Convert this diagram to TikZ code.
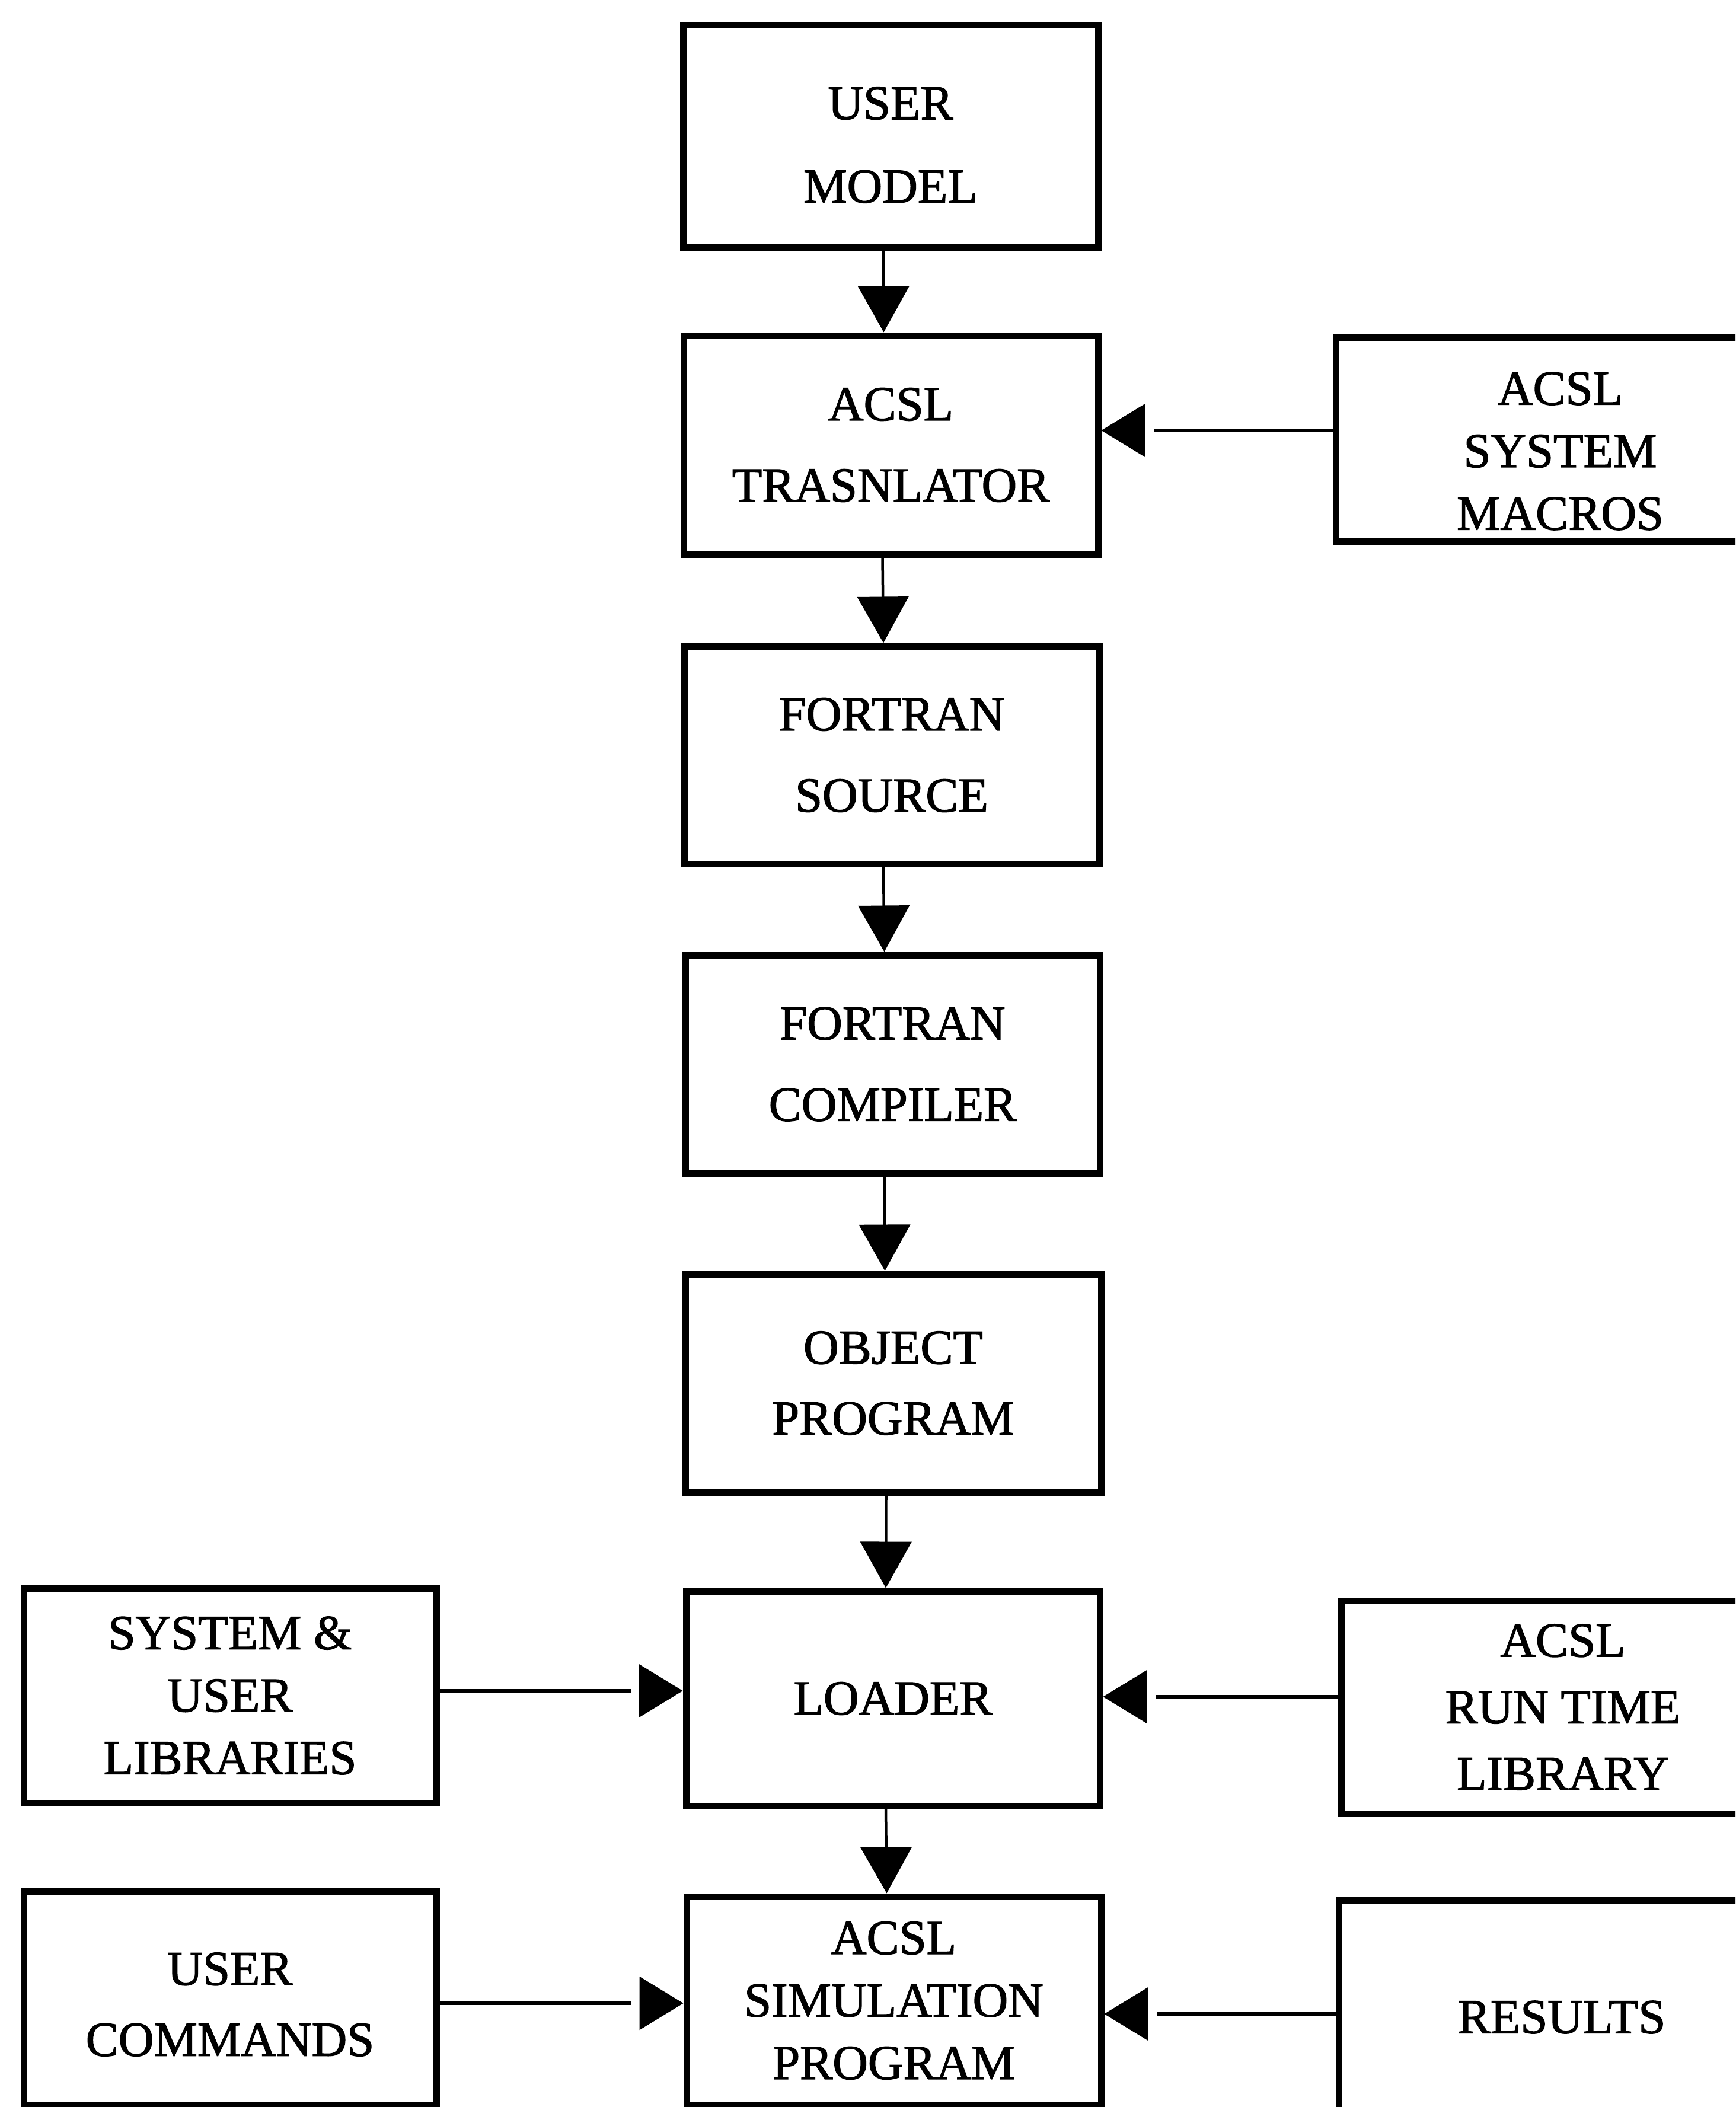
\documentclass[tikz,border=0pt]{standalone}
\usepackage{fontspec}
\setmainfont{Liberation Serif}[BoldFont=Liberation Serif, BoldFeatures={FakeBold=1.5}]
\usetikzlibrary{arrows.meta,calc}

\begin{document}
\begin{tikzpicture}[
  box/.style={draw, line width=0.11cm, rectangle, inner sep=0pt, align=center,
              font=\bfseries\fontsize{23.5}{39}\selectfont},
  txt/.style={inner sep=0pt, align=center, font=\bfseries\fontsize{23.5}{39}\selectfont},
  tight/.style={font=\bfseries\fontsize{23.5}{30}\selectfont},
  mid/.style={font=\bfseries\fontsize{23.5}{34}\selectfont},
  flow/.style={line width=0.045cm, -{Triangle[length=0.78cm,width=0.86cm]}},
  shaft/.style={line width=0.055cm, shorten >=0.88cm},
  head/.style={-{Triangle[length=0.74cm,width=0.9cm]}},
]
\useasboundingbox (0,0) rectangle (29.27,-35.54);
\clip (0,0) rectangle (29.27,-35.54);

% main processing chain
\node[box, minimum width=7.00cm, minimum height=3.75cm] (model)  at (15.02,-2.305) {};
\node[txt, font=\bfseries\fontsize{23.5}{40}\selectfont] (model-t) at ([yshift=-0.14cm]model.center) {USER\\MODEL};
\node[box, minimum width=6.99cm, minimum height=3.69cm] (trans)  at (15.025,-7.505) {ACSL\\TRASNLATOR};
\node[box, minimum width=7.00cm, minimum height=3.67cm] (source) at (15.04,-12.735) {FORTRAN\\SOURCE};
\node[box, minimum width=6.99cm, minimum height=3.68cm] (comp)   at (15.055,-17.95) {FORTRAN\\COMPILER};
\node[box, mid, minimum width=7.01cm, minimum height=3.68cm] (obj) at (15.065,-23.33) {OBJECT\\PROGRAM};
\node[box, minimum width=6.98cm, minimum height=3.62cm] (loader) at (15.06,-28.65) {LOADER};
\node[box, tight, minimum width=6.99cm, minimum height=3.51cm] (sim) at (15.075,-33.745) {ACSL\\SIMULATION\\PROGRAM};

% side inputs
\node[box, minimum width=7.57cm, minimum height=3.44cm] (macros) at (26.315,-7.41) {};
\node[txt, tight] (macros-t) at ([yshift=-0.2cm]macros.center) {ACSL\\SYSTEM\\MACROS};
\node[box, tight, minimum width=6.96cm, minimum height=3.62cm] (libs)    at (3.88,-28.60) {SYSTEM \&\\USER\\LIBRARIES};
\node[box, font=\bfseries\fontsize{23.5}{32}\selectfont, minimum width=7.48cm, minimum height=3.59cm] (runtime) at (26.36,-28.795) {ACSL\\RUN TIME\\LIBRARY};
\node[box, minimum width=6.96cm, minimum height=3.60cm] (cmds) at (3.88,-33.70) {};
\node[txt, mid] (cmds-t) at ([yshift=-0.11cm]cmds.center) {USER\\COMMANDS};
\node[box, minimum width=7.52cm, minimum height=3.95cm] (results) at (26.34,-34.025) {RESULTS};

% downward flow
\draw[flow] ($(model.south)+(-0.12,0)$)  -- ($(trans.north)+(-0.12,0)$);
\draw[flow] ($(trans.south)+(-0.14,0)$)  -- ($(source.north)+(-0.14,0)$);
\draw[flow] ($(source.south)+(-0.14,0)$) -- ($(comp.north)+(-0.14,0)$);
\draw[flow] ($(comp.south)+(-0.14,0)$)   -- ($(obj.north)+(-0.14,0)$);
\draw[flow] ($(obj.south)+(-0.12,0)$)    -- ($(loader.north)+(-0.12,0)$);
\draw[flow] ($(loader.south)+(-0.12,0)$) -- ($(sim.north)+(-0.12,0)$);

% lateral feeds: shaft stops short of a separate arrowhead
\draw[shaft] ([yshift=0.15cm]macros.west) -- ([yshift=0.15cm]macros.west -| trans.east);
\draw[head]  ([yshift=0.15cm,xshift=0.1cm]macros.west -| trans.east) -- ([yshift=0.15cm]macros.west -| trans.east);

\draw[shaft] ([yshift=0.08cm]libs.east) -- ([yshift=0.08cm]libs.east -| loader.west);
\draw[head]  ([yshift=0.08cm,xshift=-0.1cm]libs.east -| loader.west) -- ([yshift=0.08cm]libs.east -| loader.west);

\draw[shaft] ([yshift=0.175cm]runtime.west) -- ([yshift=0.175cm]runtime.west -| loader.east);
\draw[head]  ([yshift=0.175cm,xshift=0.1cm]runtime.west -| loader.east) -- ([yshift=0.175cm]runtime.west -| loader.east);

\draw[shaft] ([yshift=-0.09cm]cmds.east) -- ([yshift=-0.09cm]cmds.east -| sim.west);
\draw[head]  ([yshift=-0.09cm,xshift=-0.1cm]cmds.east -| sim.west) -- ([yshift=-0.09cm]cmds.east -| sim.west);

\draw[shaft] ([yshift=0.055cm]results.west) -- ([yshift=0.055cm]results.west -| sim.east);
\draw[head]  ([yshift=0.055cm,xshift=0.1cm]results.west -| sim.east) -- ([yshift=0.055cm]results.west -| sim.east);
\end{tikzpicture}
\end{document}
